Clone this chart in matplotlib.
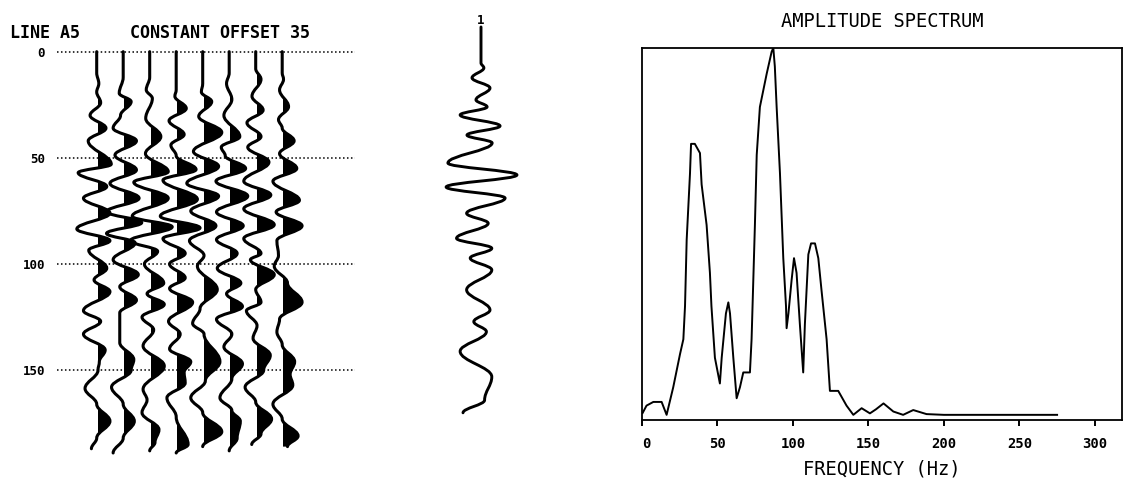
import numpy as np
import matplotlib
matplotlib.use("Agg")
import matplotlib.pyplot as plt
from matplotlib.path import Path
from matplotlib.patches import PathPatch, Rectangle

# ---------------- data ----------------
# Constant-offset section: eight traces, each given as (time, amplitude) turning points.
# Amplitude is in units of the trace spacing; positive lobes are shaded.
t1 = [0, 10, 15, 19, 24, 30, 36, 42, 53, 57, 63.5, 69, 76, 83.5, 89, 93.5, 102, 107.5, 113, 122, 127, 133, 140.5, 146, 150, 158.6, 166, 174, 182, 187]
a1 = [0, 0, 0.08, 0.0, 0.15, -0.25, 0.35, -0.32, 0.55, -0.7, 0.38, -0.5, 0.5, -0.75, 0.5, -0.3, 0.38, -0.1, 0.5, -0.5, 0.15, -0.5, 0.32, 0.1, 0.05, -0.44, 0.0, 0.5, 0.0, -0.2]

t2 = [0, 12, 19.6, 23.5, 30, 36, 42, 48.7, 55.7, 62, 69, 75.4, 80.5, 85.6, 90, 98, 105, 110.7, 117, 123, 137, 145, 150, 158, 166, 174, 182, 189]
a2 = [0, 0, -0.15, 0.3, -0.1, -0.38, 0.5, -0.31, 0.5, -0.5, 0.6, -0.63, 0.7, -0.63, 0.45, -0.38, 0.57, -0.13, 0.5, -0.13, -0.13, 0.4, 0.3, -0.44, 0.0, 0.42, 0.0, -0.38]

t3 = [0, 12, 18, 22, 31.4, 40, 48, 56.5, 61.5, 69, 77.5, 82.5, 89, 94, 100, 109, 114, 119, 125, 131, 138.6, 148, 159, 164, 170, 178, 184, 188]
a3 = [0, 0, -0.13, 0.1, -0.15, 0.42, -0.16, 0.7, -0.6, 0.7, -0.66, 0.85, -0.73, 0.3, -0.2, 0.53, -0.1, 0.55, -0.29, 0.15, -0.25, 0.55, -0.25, -0.1, -0.29, 0.35, 0.2, 0.0]

t4 = [0, 18, 21, 26.7, 32.5, 39, 44, 49, 55.5, 60.5, 69.5, 77.5, 83, 88, 95, 100, 106.5, 111.5, 118, 127, 133, 140, 146, 151, 156, 163, 172, 185, 189]
a4 = [0, 0, -0.05, 0.38, -0.27, 0.3, -0.2, 0.0, 0.75, -0.5, 0.8, -0.6, 0.9, -0.5, 0.34, -0.25, 0.34, -0.25, 0.62, -0.29, 0.15, -0.25, 0.55, 0.3, 0.34, -0.35, 0.0, 0.45, 0.0]

t5 = [0, 15, 19, 23.5, 30.5, 38, 47, 54, 62, 68, 75, 82, 89, 96, 101, 112, 121, 128, 133, 146, 155, 163, 170, 179, 186]
a5 = [0, 0, -0.05, 0.34, -0.15, 0.72, -0.35, 0.6, -0.6, 0.6, -0.45, 0.5, -0.5, 0.05, -0.2, 0.55, -0.1, -0.38, 0.05, 0.65, 0.1, -0.45, 0.0, 0.72, 0.0]

t6 = [0, 10, 15, 22.5, 30, 40, 45, 49, 55, 61, 68, 75.5, 82, 88.5, 95, 102, 109, 114, 120, 126, 133, 139, 147, 154, 163, 169, 174, 182, 188]
a6 = [0, 0, -0.1, 0.1, -0.2, 0.4, -0.3, -0.15, 0.62, -0.5, 0.7, -0.48, 0.53, -0.48, 0.3, -0.45, 0.44, -0.1, 0.5, -0.48, 0.1, -0.2, 0.5, 0.1, -0.35, 0.1, 0.42, 0.3, 0.0]

t7 = [0, 8, 13, 21, 27.5, 33.5, 40, 45, 52, 61, 67.5, 74, 81.5, 88, 95, 98, 105, 112, 118, 122, 129, 135, 143, 150, 158, 165, 173, 180, 185]
a7 = [0, 0, 0.2, -0.14, 0.28, -0.33, 0.2, -0.3, 0.5, -0.45, 0.57, -0.45, 0.7, -0.45, 0.2, -0.2, 0.7, 0.0, 0.2, -0.35, 0.05, -0.1, 0.55, 0.3, -0.4, 0.0, 0.6, 0.2, -0.15]

t8 = [0, 10, 13, 18, 25.9, 32, 36, 42, 48, 55, 61, 70, 75.5, 82, 89, 96, 101, 109, 118, 126, 132, 138, 146, 152, 157, 166, 173, 181, 186]
a8 = [0, 0, 0.05, -0.1, 0.24, -0.14, 0.0, 0.45, -0.1, 0.55, -0.35, 0.65, -0.23, 0.75, -0.2, -0.14, -0.3, 0.2, 0.75, -0.1, -0.2, 0.0, 0.47, 0.3, 0.4, -0.35, 0.0, 0.6, 0.2]

trace_times = [t1, t2, t3, t4, t5, t6, t7, t8]
trace_amps = [a1, a2, a3, a4, a5, a6, a7, a8]
time_ticks = [0, 50, 100, 150]

# Single reference trace (normalised amplitude)
mid_t = [0, 17, 19.3, 24, 28.8, 34.4, 37.7, 41.5, 46.7, 51, 54.7, 64.2, 69.8, 75.5, 80.7, 87.9, 92.6, 99.7,
         104.4, 109, 114.6, 124, 133.5, 139, 143.7, 153, 165, 176, 182]
mid_amp = [0, 0, 0.08, -0.25, 0.25, -0.14, 0.17, -0.58, 0.53, -0.39, 0.31, -0.92, 1.0, -0.97, 0.67, -0.4, 0.2,
           -0.68, 0.3, -0.3, 0.3, -0.4, 0.25, -0.2, 0.15, -0.58, 0.3, 0.1, -0.5]

# Amplitude spectrum
freq = [0.4, 3, 7.5, 13, 16.3, 20.7, 25.2, 27.4, 28.5, 29.6, 31.8, 32.5, 35, 38.4, 39.5, 42.8, 45, 46, 48.3,
        51.6, 52.8, 55.6, 57.2, 58.3, 60.5, 62.7, 64.9, 67.1, 71.5, 72.6, 74.8, 76, 78.1, 82.6, 85.9, 87, 88,
        89.2, 91.4, 93.6, 95.4, 95.8, 97, 99.1, 100.7, 102.4, 104.6, 106.8, 107.9, 110.2, 112, 114.6, 116.8,
        119, 122.3, 124.5, 130, 135.5, 140, 145.5, 151, 155, 160, 166.5, 173, 179.7, 188.5, 200, 275]
amp = [0.01, 0.03, 0.04, 0.04, 0.005, 0.08, 0.17, 0.21, 0.30, 0.48, 0.66, 0.74, 0.74, 0.715, 0.63, 0.52, 0.39,
       0.30, 0.16, 0.09, 0.16, 0.28, 0.31, 0.28, 0.16, 0.05, 0.08, 0.12, 0.12, 0.21, 0.52, 0.71, 0.84, 0.93,
       0.99, 1.0, 0.95, 0.84, 0.66, 0.43, 0.30, 0.24, 0.28, 0.37, 0.43, 0.39, 0.25, 0.12, 0.25, 0.44, 0.47,
       0.47, 0.43, 0.34, 0.21, 0.07, 0.07, 0.03, 0.005, 0.023, 0.009, 0.02, 0.036, 0.014, 0.005, 0.018, 0.007,
       0.005, 0.005]
freq_ticks = [0, 50, 100, 150, 200, 250, 300]


def wiggle_path(xs, ys, closed_at=None, c=0.38):
    """Bezier path through turning points with vertical tangents at each point."""
    verts = [(xs[0], ys[0])]
    codes = [Path.MOVETO]
    for i in range(len(xs) - 1):
        dy = ys[i + 1] - ys[i]
        verts += [(xs[i], ys[i] + c * dy), (xs[i + 1], ys[i + 1] - c * dy), (xs[i + 1], ys[i + 1])]
        codes += [Path.CURVE4] * 3
    if closed_at is not None:
        verts += [(closed_at, ys[-1]), (closed_at, ys[0]), (closed_at, ys[0])]
        codes += [Path.LINETO, Path.LINETO, Path.CLOSEPOLY]
    return Path(verts, codes)


# ---------------- figure ----------------
W, H = 1127, 490
fig = plt.figure(figsize=(W / 100, H / 100), dpi=100)
mono = "DejaVu Sans Mono"

# --- wiggle section ---
ax = fig.add_axes([57 / W, 1 - 460 / H, 298 / W, 420 / H])
ax.set_xlim(-0.498, 10.747)
ax.set_ylim(192.3, -5.5)
for t in time_ticks:
    ax.axhline(t, color="black", lw=1.1, ls=(0, (1, 1.6)), zorder=1)
for k, (tt, aa) in enumerate(zip(trace_times, trace_amps), start=1):
    xs = [k + a for a in aa]
    shade = PathPatch(wiggle_path(xs, tt, closed_at=k), facecolor="black",
                      edgecolor="none", lw=0, zorder=2)
    ax.add_patch(shade)
    # keep only the lobes to the right of the trace's zero line
    shade.set_clip_path(Rectangle((k + 0.04, -20), 3, 240, transform=ax.transData))
    ax.add_patch(PathPatch(wiggle_path(xs, tt), facecolor="none", edgecolor="black",
                           lw=2.2, zorder=3, joinstyle="round", capstyle="round"))
ax.set_yticks(time_ticks, labels=[str(t) for t in time_ticks])
ax.tick_params(axis="y", length=0, pad=8.6, labelsize=9)
for lab in ax.get_yticklabels():
    lab.set_fontfamily(mono)
    lab.set_fontweight("bold")
ax.set_xticks([])
for s in ax.spines.values():
    s.set_visible(False)

fig.text(10 / W, 1 - 33 / H, "LINE A5", family=mono, weight="bold",
         fontsize=12, ha="left", va="center")
fig.text(130 / W, 1 - 33 / H, "CONSTANT OFFSET 35", family=mono, weight="bold",
         fontsize=12, ha="left", va="center")

# --- single trace ---
ax2 = fig.add_axes([431 / W, 1 - 430 / H, 100 / W, 420 / H])
ax2.set_xlim(-1.39, 1.39)
ax2.set_ylim(190.1, -8)
ax2.add_patch(PathPatch(wiggle_path(mid_amp, mid_t), facecolor="none", edgecolor="black",
                        lw=2.1, joinstyle="round", capstyle="round"))
ax2.text(0, -3, "1", family=mono, weight="bold", fontsize=9, ha="center", va="center")
ax2.axis("off")

# --- amplitude spectrum ---
axs = fig.add_axes([642 / W, 1 - 420 / H, 480 / W, 372 / H])
axs.plot(freq, amp, color="black", lw=1.4)
axs.set_xlim(0, 318)
axs.set_ylim(-0.009, 1.0)
axs.set_xticks(freq_ticks, labels=[str(f) for f in freq_ticks])
axs.set_yticks([])
axs.tick_params(axis="x", direction="out", length=4.5, width=1.4, pad=8, labelsize=10)
for lab in axs.get_xticklabels():
    lab.set_fontfamily(mono)
    lab.set_fontweight("bold")
axs.get_xticklabels()[0].set_horizontalalignment("left")
for s in axs.spines.values():
    s.set_linewidth(1.3)
axs.set_title("AMPLITUDE SPECTRUM", family=mono, fontsize=13.5, pad=15)
axs.set_xlabel("FREQUENCY (Hz)", family=mono, fontsize=13.5, labelpad=6)

fig.savefig("out.png", dpi=100, facecolor="white")
